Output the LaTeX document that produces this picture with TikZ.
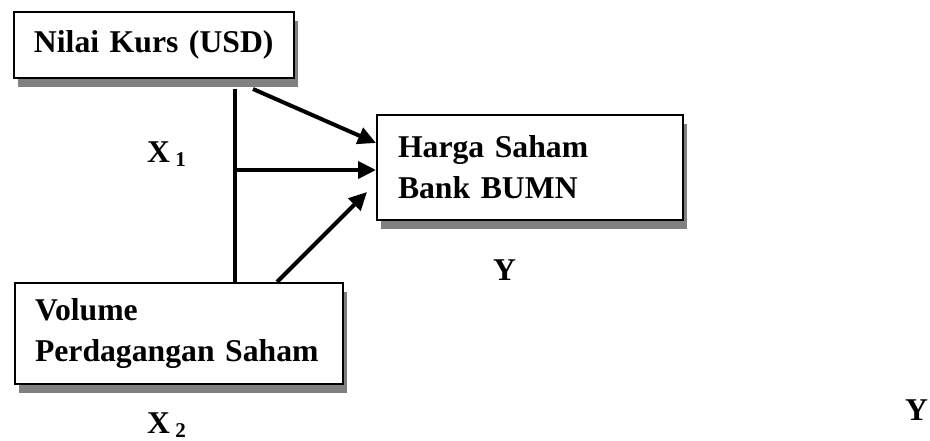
\documentclass[tikz,border=0pt]{standalone}
\usepackage{fontspec}
\setmainfont{Liberation Serif}
\usetikzlibrary{arrows.meta,shadows}

\newcommand{\idxsize}{\fontsize{21}{21}\selectfont}

\tikzset{
  varbox/.style={draw, line width=2pt, fill=white, anchor=north west, align=left,
    inner ysep=0pt, font=\bfseries\fontsize{31.7}{41}\selectfont,
    drop shadow={shadow xshift=4pt, shadow yshift=-9pt, fill=black!50, opacity=1}},
  link/.style={line width=4pt},
  arrow/.style={link, -{Triangle[length=18pt,width=17pt]}},
  varlabel/.style={anchor=base west, inner sep=0pt, font=\bfseries\fontsize{31.7}{38}\selectfont}
}

\begin{document}
\begin{tikzpicture}[x=1pt,y=-1pt]
  \useasboundingbox (0,0) rectangle (930,441);

  % variable boxes
  \node[varbox, inner xsep=20pt, text width=240pt, minimum height=66pt] (kurs) at (13,11) {Nilai Kurs (USD)};
  \node[varbox, inner xsep=21pt, text width=264pt, minimum height=105pt] (harga) at (376,114) {Harga Saham\\Bank BUMN};
  \node[varbox, inner xsep=20pt, text width=288pt, minimum height=101pt] (volume) at (14,282) {Volume\\Perdagangan Saham};

  % trunk between X1 and X2
  \coordinate (top) at (235,89);
  \coordinate (hub) at (235,170);
  \draw[link] (top) -- (volume.north -| top);

  % arrows into Y
  \coordinate (k1) at (253,89);
  \coordinate (v1) at (277,282);
  \coordinate (h3) at (367,192);
  \draw[arrow] (k1) -- ([yshift=24.5pt]harga.west);
  \draw[arrow] (hub) -- (hub -| harga.west);
  \draw[arrow] (v1) -- (h3);

  % labels
  \node[varlabel] (x1) at (147,163) {X\,\raisebox{-4pt}{\idxsize 1}};
  \node[varlabel] (y1) at (493,280) {Y};
  \node[varlabel] (y2) at (905,420) {Y};
  \node[varlabel] (x2) at (147,433) {X\,\raisebox{-4pt}{\idxsize 2}};
\end{tikzpicture}
\end{document}
